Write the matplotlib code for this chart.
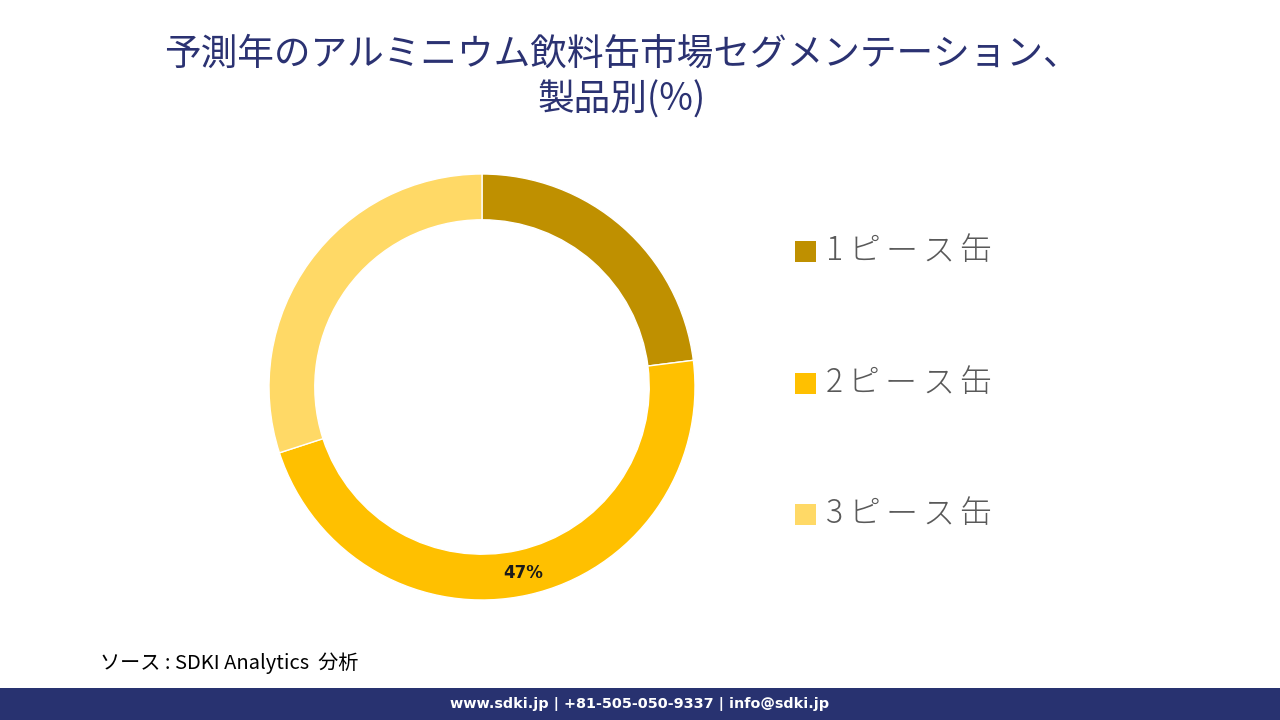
import matplotlib
matplotlib.use("Agg")
import matplotlib.pyplot as plt
from matplotlib.patches import Rectangle
import numpy as np

plt.rcParams['font.family'] = ['Noto Sans CJK JP', 'DejaVu Sans']

title = "予測年のアルミニウム飲料缶市場セグメンテーション、\n製品別(%)"
categories = ["1ピース缶", "2ピース缶", "3ピース缶"]
values = [23, 47, 30]
colors = ["#BF9000", "#FFC000", "#FFD966"]
shown_labels = ["", "47%", ""]
source = "ソース : SDKI Analytics  分析"
footer = "www.sdki.jp | +81-505-050-9337 | info@sdki.jp"

W, H = 1280, 720
fig = plt.figure(figsize=(12.8, 7.2), dpi=100)
fig.patch.set_facecolor("white")

# donut
cx, cy, r = 482, 387, 213
ax = fig.add_axes([(cx - r) / W, (H - cy - r) / H, 2 * r / W, 2 * r / H])
wedges, _ = ax.pie(values, colors=colors, startangle=90, counterclock=False,
                   radius=1.0, wedgeprops=dict(width=0.215, edgecolor="white", linewidth=1.0))
ax.set_xlim(-1, 1)
ax.set_ylim(-1, 1)
ax.set_aspect("equal")
ax.axis("off")

start = 90.0
total = sum(values)
for v, lab in zip(values, shown_labels):
    span = 360.0 * v / total
    mid = np.deg2rad(start - span / 2)
    if lab:
        rr = 1 - 0.215 / 2
        ax.text(rr * np.cos(mid), rr * np.sin(mid), lab, ha="center", va="center",
                fontsize=12, fontweight="bold", color="#1a1a1a", family=['DejaVu Sans'])
    start -= span

# title
fig.text(622 / W, 1 - 77 / H, title, ha="center", va="center", fontsize=26.4,
         color="#2B3272", linespacing=1.25)

# legend
renderer = fig.canvas.get_renderer()
ys = [251, 383, 514]
spacing = 5
for cat, col, y in zip(categories, colors, ys):
    fig.patches.append(Rectangle((795 / W, 1 - (y + 11) / H), 21 / W, 21 / H,
                                 transform=fig.transFigure, facecolor=col, edgecolor="none"))
    x = 826
    for ch in cat:
        t = fig.text(x / W, 1 - y / H, ch, ha="left", va="center", fontsize=23,
                     color="#595959", fontweight="light")
        bb = t.get_window_extent(renderer=renderer)
        x += bb.width + spacing

# source
fig.text(100 / W, 1 - 663 / H, source, ha="left", va="center", fontsize=14.5,
         style="italic", color="black")

# footer bar
fig.patches.append(Rectangle((0, 0), 1, 32 / H, transform=fig.transFigure,
                             facecolor="#283270", edgecolor="none"))
fig.text(640 / W, 16 / H, footer, ha="center", va="center", fontsize=10.4,
         fontweight="bold", color="white", family=['DejaVu Sans'])

fig.savefig("out.png", dpi=100)
